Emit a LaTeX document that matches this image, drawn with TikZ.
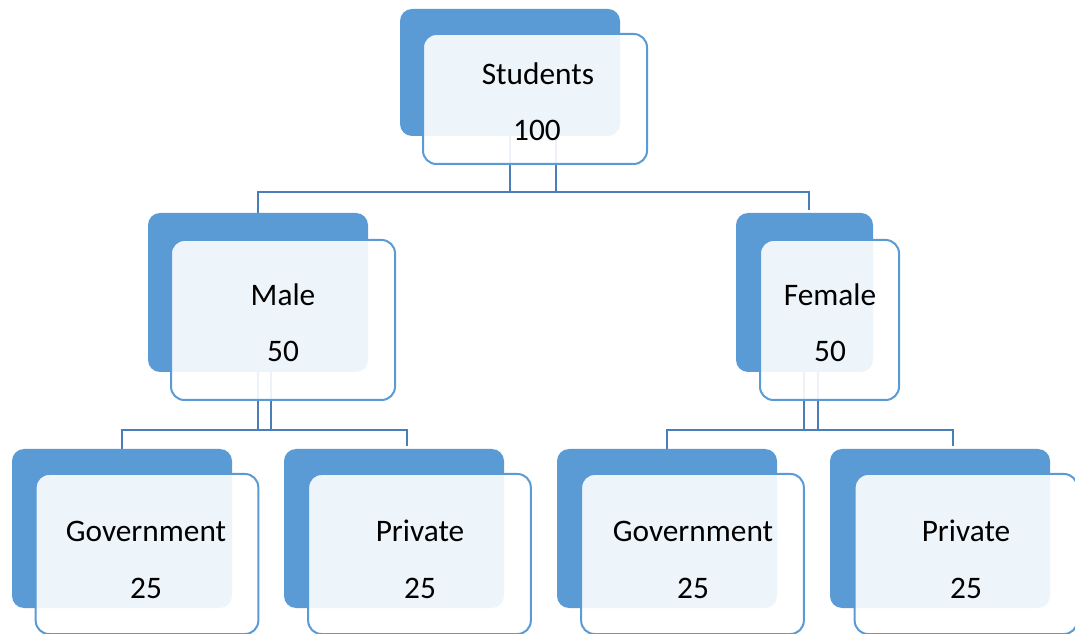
\documentclass[tikz,border=0pt]{standalone}
\usepackage{fontspec}
\setmainfont{Carlito}
\definecolor{backblue}{HTML}{5B9BD5}
\definecolor{lineblue}{HTML}{4A7EBB}
\tikzset{
  backbox/.style={fill=backblue, rounded corners=9pt, inner sep=0pt, minimum width=165pt, minimum height=119.25pt},
  frontbox/.style={draw=backblue, line width=1.5pt, fill=white, fill opacity=0.9, rounded corners=10pt, inner sep=0pt, minimum width=167pt, minimum height=120pt},
  label/.style={font=\fontsize{23.5}{28}\selectfont, inner sep=0pt},
  conn/.style={draw=lineblue, line width=1.5pt}
}
\begin{document}
\begin{tikzpicture}[x=0.75pt,y=-0.75pt]
\useasboundingbox (0,0) rectangle (1075,634);
\clip (0,0) rectangle (1075,634);
% back boxes
\node[backbox, minimum height=95.25pt] (stuB) at (510,72.5) {};
\node[backbox] (maleB) at (258,292.5) {};
\node[backbox, minimum width=102.75pt] (femB) at (804.5,292.5) {};
\node[backbox] (govmB) at (122,528.5) {};
\node[backbox] (prvmB) at (394,528.5) {};
\node[backbox] (govfB) at (667,528.5) {};
\node[backbox] (prvfB) at (940,528.5) {};
% connectors
\coordinate (stuBar) at (533,192);
\coordinate (maleBar) at (264,430);
\coordinate (femBar) at (810,430);
\draw[conn] (stuB.south) -- (stuB.south |- stuBar);
\draw[conn] ([xshift=34.5pt]stuB.south) -- ([xshift=34.5pt]stuB.south |- stuBar);
\draw[conn, shorten >=2pt] (maleB.north) |- (stuBar) -| ([xshift=3pt]femB.north);
\draw[conn] (maleB.south) -- (maleB.south |- maleBar);
\draw[conn] ([xshift=9.75pt]maleB.south) -- ([xshift=9.75pt]maleB.south |- maleBar);
\draw[conn, shorten >=2pt] (govmB.north) |- (maleBar) -| ([xshift=9.75pt]prvmB.north);
\draw[conn] ([xshift=-0.75pt]femB.south) -- ([xshift=-0.75pt]femB.south |- femBar);
\draw[conn] ([xshift=9.75pt]femB.south) -- ([xshift=9.75pt]femB.south |- femBar);
\draw[conn, shorten >=2pt] (govfB.north) |- (femBar) -| ([xshift=9.75pt]prvfB.north);
% front boxes
\node[frontbox, minimum width=168pt, minimum height=97.5pt] (stuF) at (535,99) {};
\node[frontbox, minimum width=168pt] (maleF) at (283,320) {};
\node[frontbox, minimum width=104.25pt] (femF) at (829.5,320) {};
\node[frontbox] (govmF) at (147,554) {};
\node[frontbox] (prvmF) at (419.5,554) {};
\node[frontbox] (govfF) at (692.5,554) {};
\node[frontbox] (prvfF) at (966,554) {};
% texts
\node[label] (stuT) at (538,74) {Students};
\node[label] (stuN) at (537,130) {100};
\node[label] (maleT) at (283,295) {Male};
\node[label] (maleN) at (283,351) {50};
\node[label] (femT) at (830,295) {Female};
\node[label] (femN) at (830,351) {50};
\node[label] (govmT) at (146,531) {Government};
\node[label] (govmN) at (146,588) {25};
\node[label] (prvmT) at (420,531) {Private};
\node[label] (prvmN) at (420,588) {25};
\node[label] (govfT) at (693,531) {Government};
\node[label] (govfN) at (693,588) {25};
\node[label] (prvfT) at (966,531) {Private};
\node[label] (prvfN) at (966,588) {25};
\end{tikzpicture}
\end{document}
